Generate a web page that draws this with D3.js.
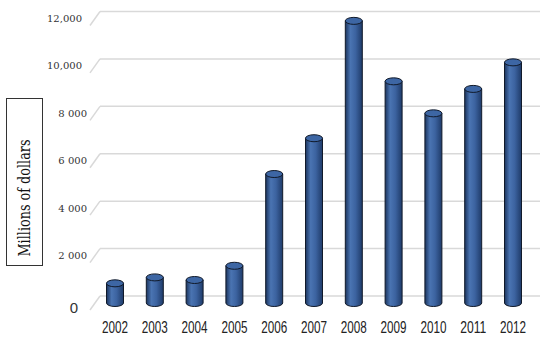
<!DOCTYPE html>
<html>
<head>
<meta charset="utf-8">
<script src="https://cdn.jsdelivr.net/npm/d3@7"></script>
<style>
  body { margin: 0; background: #fff; }
  svg { display: block; }
  .serif { font-family: 'DejaVu Serif', serif; }
  .sans { font-family: 'Liberation Sans', Arial, 'DejaVu Sans', sans-serif; }
</style>
</head>
<body>
<div id="chart"></div>
<script>
// data
const years = ['2002', '2003', '2004', '2005', '2006', '2007', '2008', '2009', '2010', '2011', '2012'];
const values = [830, 1080, 970, 1570, 5440, 6950, 11900, 9350, 8000, 9030, 10150];
const tickValues = [0, 2000, 4000, 6000, 8000, 10000, 12000];
const tickLabels = ['0', '2 000', '4 000', '6 000', '8 000', '10,000', '12,000'];

const width = 550, height = 339;
const depthX = 5, depthY = 7; // half depth of the 3d box

const svg = d3.select('#chart').append('svg')
  .attr('width', width)
  .attr('height', height);

const defs = svg.append('defs');
const grad = defs.append('linearGradient').attr('id', 'cyl').attr('x1', 0).attr('x2', 1).attr('y1', 0).attr('y2', 0);
grad.append('stop').attr('offset', '0%').attr('stop-color', '#1c355e');
grad.append('stop').attr('offset', '30%').attr('stop-color', '#4a74b2');
grad.append('stop').attr('offset', '60%').attr('stop-color', '#3c63a0');
grad.append('stop').attr('offset', '100%').attr('stop-color', '#1f3b69');

// middle depth scale
const y = d3.scaleLinear().domain([0, 12000]).range([303, 18.5]);
const x = d3.scalePoint().domain(years).range([115, 513]);
const barW = 17, ry = 3.5;

// gridlines on back wall + diagonal on left side
const grid = svg.append('g');
grid.selectAll('line.back')
  .data(tickValues)
  .enter().append('line')
  .attr('x1', 100).attr('x2', 540)
  .attr('y1', d => y(d) - depthY).attr('y2', d => y(d) - depthY)
  .attr('stroke', '#d9d9d9').attr('stroke-width', 1.5);
grid.selectAll('line.side')
  .data(tickValues)
  .enter().append('line')
  .attr('x1', 100 - 2 * depthX).attr('x2', 100)
  .attr('y1', d => y(d) + depthY).attr('y2', d => y(d) - depthY)
  .attr('stroke', '#d9d9d9').attr('stroke-width', 1.5);

// tick labels
svg.append('g').selectAll('text')
  .data(tickValues)
  .enter().append('text')
  .attr('class', (d, i) => i === 0 ? 'sans' : 'serif')
  .attr('x', (d, i) => i === 0 ? 78 : (d >= 10000 ? 82 : 87))
  .attr('y', d => y(d) + (d === 0 ? 5 : 0))
  .attr('dy', '0.35em')
  .attr('text-anchor', 'end')
  .attr('font-size', (d, i) => i === 0 ? 15 : 10)
  .attr('fill', '#333')
  .text((d, i) => tickLabels[i]);

// cylinders
const bars = svg.append('g').selectAll('g')
  .data(years.map((yr, i) => ({ yr, v: values[i] })))
  .enter().append('g');

bars.append('path')
  .attr('d', d => {
    const cx = x(d.yr), l = cx - barW / 2, r = cx + barW / 2;
    const top = y(d.v), bot = y(0);
    return `M${l},${top} L${l},${bot} A${barW / 2},${ry} 0 0 0 ${r},${bot} L${r},${top} Z`;
  })
  .attr('fill', 'url(#cyl)')
  .attr('stroke', '#111a2a')
  .attr('stroke-width', 1);

bars.append('ellipse')
  .attr('cx', d => x(d.yr))
  .attr('cy', d => y(d.v))
  .attr('rx', barW / 2)
  .attr('ry', ry)
  .attr('fill', '#3d66a4')
  .attr('stroke', '#111a2a')
  .attr('stroke-width', 1);

// x labels
svg.append('g').selectAll('text')
  .data(years)
  .enter().append('text')
  .attr('class', 'sans')
  .attr('x', d => x(d))
  .attr('y', 333)
  .attr('text-anchor', 'middle')
  .attr('font-size', 16)
  .attr('textLength', 26)
  .attr('lengthAdjust', 'spacingAndGlyphs')
  .attr('fill', '#222')
  .text(d => d);

// y axis title in a box
svg.append('rect')
  .attr('x', 6.5).attr('y', 98.5)
  .attr('width', 36).attr('height', 167)
  .attr('fill', 'none')
  .attr('stroke', '#333')
  .attr('stroke-width', 1);

svg.append('text')
  .attr('class', 'serif')
  .attr('transform', 'translate(30,198) rotate(-90)')
  .attr('text-anchor', 'middle')
  .attr('font-size', 16)
  .attr('textLength', 117)
  .attr('lengthAdjust', 'spacingAndGlyphs')
  .attr('fill', '#111')
  .text('Millions of dollars');
</script>
</body>
</html>
